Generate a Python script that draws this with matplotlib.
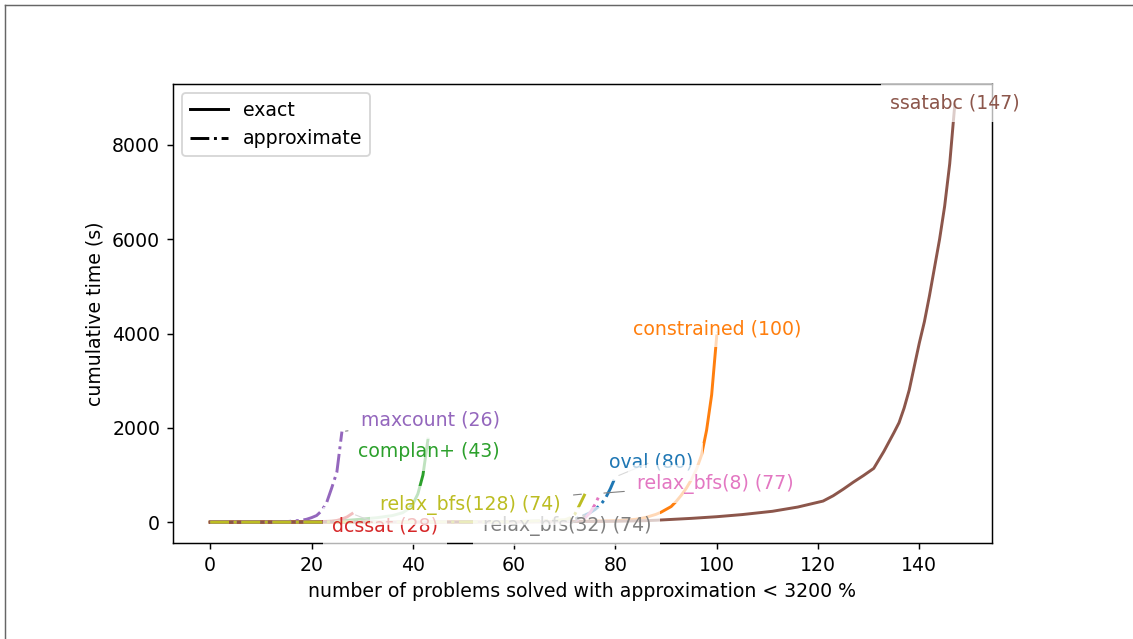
import matplotlib
matplotlib.use("Agg")
import matplotlib.pyplot as plt
from matplotlib.lines import Line2D

# ---------------- data ----------------
solvers = ["oval", "constrained", "complan+", "dcssat", "maxcount", "ssatabc",
           "relax_bfs(8)", "relax_bfs(32)", "relax_bfs(128)"]
approximate = [True, False, False, False, True, False, True, True, True]
solved = [80, 100, 43, 28, 26, 147, 77, 74, 74]

oval_x = [0, 20, 40, 60, 70, 72, 73, 74, 75, 76, 77, 78, 79, 80]
oval_y = [0, 1, 3, 10, 40, 70, 100, 150, 200, 270, 360, 500, 710, 960]

constrained_x = [0, 20, 40, 60, 70, 80, 84, 86, 88, 89, 90, 91, 92, 93, 94, 95, 96, 97, 98, 99, 100]
constrained_y = [0, 1, 3, 6, 12, 30, 60, 100, 165, 210, 270, 330, 440, 570, 720, 900, 1120, 1420, 1950, 2700, 3950]

complan_x = [0, 20, 25, 29, 33, 36, 38, 39, 40, 41, 42, 43]
complan_y = [0, 5, 20, 55, 95, 140, 200, 270, 380, 600, 1000, 1760]

dcssat_x = [0, 20, 24, 25, 26, 27, 28]
dcssat_y = [0, 5, 20, 35, 65, 110, 180]

maxcount_x = [0, 15, 18, 19, 20, 21, 22, 23, 24, 25, 26]
maxcount_y = [0, 10, 40, 60, 95, 140, 240, 420, 730, 1060, 1920]

ssatabc_x = [0, 40, 60, 70, 80, 85, 88, 95, 100, 105, 111, 116, 121, 123, 125, 127, 129,
             131, 133, 135, 136, 137, 138, 139, 140, 141, 142, 143, 144, 145, 146, 147]
ssatabc_y = [0, 2, 5, 10, 18, 28, 40, 80, 115, 160, 230, 320, 447, 560, 700, 850, 990,
             1140, 1500, 1900, 2110, 2420, 2800, 3300, 3800, 4250, 4800, 5400, 6000, 6700, 7600, 8850]

rb8_x = [0, 20, 40, 60, 70, 72, 73, 74, 75, 76, 77]
rb8_y = [0, 1, 3, 8, 25, 40, 60, 90, 200, 380, 610]

rb32_x = [0, 20, 40, 60, 70, 72, 73, 74]
rb32_y = [0, 1, 3, 6, 30, 60, 90, 140]

rb128_x = [0, 20, 40, 60, 70, 71, 72, 73, 74]
rb128_y = [0, 1, 3, 8, 50, 90, 170, 380, 600]

series_x = [oval_x, constrained_x, complan_x, dcssat_x, maxcount_x, ssatabc_x, rb8_x, rb32_x, rb128_x]
series_y = [oval_y, constrained_y, complan_y, dcssat_y, maxcount_y, ssatabc_y, rb8_y, rb32_y, rb128_y]

# label positions (data coordinates of the label centres)
label_x = [87.1, 100.0, 43.2, 34.5, 43.5, 147.0, 99.8, 70.4, 51.3]
label_y = [1277, 4106, 1489, -85, 2170, 8894, 809, -85, 362]

# ---------------- figure ----------------
plt.rcParams["font.size"] = 10.3
W, H, DPI = 1133, 639, 132
fig = plt.figure(figsize=(W / DPI, H / DPI), dpi=DPI)
ax = fig.add_axes([173 / W, 1 - 543 / H, 819 / W, 459 / H])

colors = ["C%d" % i for i in range(9)]
for i, name in enumerate(solvers):
    ls = "-." if approximate[i] else "-"
    ax.plot(series_x[i], series_y[i], ls=ls, color=colors[i], lw=1.6)

for i, name in enumerate(solvers):
    ax.annotate("%s (%d)" % (name, solved[i]),
                xy=(series_x[i][-1], series_y[i][-1]),
                xytext=(label_x[i], label_y[i]), textcoords="data",
                ha="center", va="center", color=colors[i],
                bbox=dict(boxstyle="square,pad=0.5", facecolor="white",
                          edgecolor="none", alpha=0.7),
                arrowprops=dict(arrowstyle="-", color="gray", lw=0.6))

ax.set_xticks([0, 20, 40, 60, 80, 100, 120, 140])
ax.set_yticks([0, 2000, 4000, 6000, 8000])
ax.set_xlabel("number of problems solved with approximation < 3200 %")
ax.set_ylabel("cumulative time (s)")

handles = [Line2D([], [], color="black", ls="-", lw=1.6),
           Line2D([], [], color="black", ls="-.", lw=1.6)]
ax.legend(handles, ["exact", "approximate"], loc="upper left")

# figure border (only left and top edges visible in the reference)
fig.add_artist(Line2D([4.5 / W, 4.5 / W], [0, 1 - 4.5 / H], transform=fig.transFigure,
                      color="#666666", lw=0.8))
fig.add_artist(Line2D([4.5 / W, 1], [1 - 4.5 / H, 1 - 4.5 / H], transform=fig.transFigure,
                      color="#666666", lw=0.8))

fig.savefig("out.png", dpi=DPI)
